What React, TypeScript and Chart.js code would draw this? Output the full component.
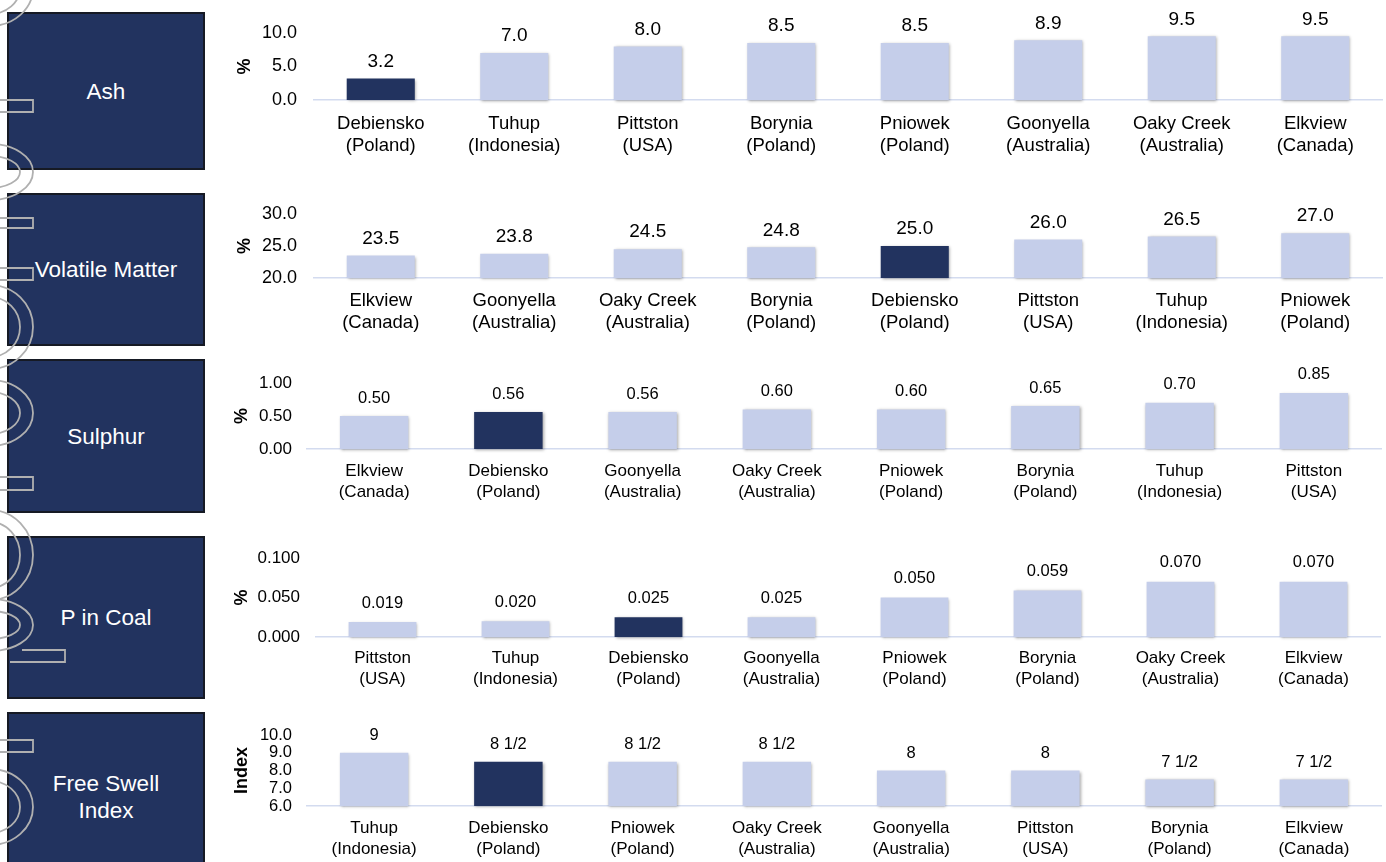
import React, { useEffect, useRef } from 'react';
import { Chart, registerables } from 'chart.js';
Chart.register(...registerables);

const FONT = '"Liberation Sans", Arial, Helvetica, sans-serif';
const DARK = '#22335F';
const LIGHT = '#C5CEEA';
const AXIS = '#D3DBEF';
const HIGHLIGHT = 'Debiensko';

// ---- Ash ----
const ashCategories = [['Debiensko', '(Poland)'], ['Tuhup', '(Indonesia)'], ['Pittston', '(USA)'], ['Borynia', '(Poland)'], ['Pniowek', '(Poland)'], ['Goonyella', '(Australia)'], ['Oaky Creek', '(Australia)'], ['Elkview', '(Canada)']];
const ashValues = [3.2, 7.0, 8.0, 8.5, 8.5, 8.9, 9.5, 9.5];
const ashTicks = [0, 5, 10];

// ---- Volatile Matter ----
const vmCategories = [['Elkview', '(Canada)'], ['Goonyella', '(Australia)'], ['Oaky Creek', '(Australia)'], ['Borynia', '(Poland)'], ['Debiensko', '(Poland)'], ['Pittston', '(USA)'], ['Tuhup', '(Indonesia)'], ['Pniowek', '(Poland)']];
const vmValues = [23.5, 23.8, 24.5, 24.8, 25.0, 26.0, 26.5, 27.0];
const vmTicks = [20, 25, 30];

// ---- Sulphur ----
const sCategories = [['Elkview', '(Canada)'], ['Debiensko', '(Poland)'], ['Goonyella', '(Australia)'], ['Oaky Creek', '(Australia)'], ['Pniowek', '(Poland)'], ['Borynia', '(Poland)'], ['Tuhup', '(Indonesia)'], ['Pittston', '(USA)']];
const sValues = [0.50, 0.56, 0.56, 0.60, 0.60, 0.65, 0.70, 0.85];
const sTicks = [0, 0.5, 1.0];

// ---- P in Coal ----
const pCategories = [['Pittston', '(USA)'], ['Tuhup', '(Indonesia)'], ['Debiensko', '(Poland)'], ['Goonyella', '(Australia)'], ['Pniowek', '(Poland)'], ['Borynia', '(Poland)'], ['Oaky Creek', '(Australia)'], ['Elkview', '(Canada)']];
const pValues = [0.019, 0.020, 0.025, 0.025, 0.050, 0.059, 0.070, 0.070];
const pTicks = [0, 0.05, 0.1];

// ---- Free Swell Index ----
const fsiCategories = [['Tuhup', '(Indonesia)'], ['Debiensko', '(Poland)'], ['Pniowek', '(Poland)'], ['Oaky Creek', '(Australia)'], ['Goonyella', '(Australia)'], ['Pittston', '(USA)'], ['Borynia', '(Poland)'], ['Elkview', '(Canada)']];
const fsiValues = [9, 8.5, 8.5, 8.5, 8, 8, 7.5, 7.5];
const fsiTicks = [6, 7, 8, 9, 10];

const fixed = (d: number) => (v: number) => v.toFixed(d);
const fraction = (v: number) => {
  const w = Math.floor(v);
  return v - w === 0.5 ? `${w} 1/2` : `${w}`;
};

const CANVAS_LEFT = 220;
const CANVAS_WIDTH = 1166;

type Spec = {
  cats: string[][]; values: number[]; ticks: number[]; tickDec: number; fmt: (v: number) => string;
  title: string; top: number; height: number; areaTop: number; areaBottom: number; areaLeft: number; areaRight: number;
  tickRight: number; tickFont: number; valueFont: number; valueOffset: number; catFont: number; catLine: number; catGap: number; titleX: number;
};

const specs: Spec[] = [
  { cats: ashCategories, values: ashValues, ticks: ashTicks, tickDec: 1, fmt: fixed(1), title: '%',
    top: 0, height: 170, areaTop: 33, areaBottom: 100, areaLeft: 314, areaRight: 1382, tickRight: 297,
    tickFont: 18, valueFont: 19, valueOffset: 17, catFont: 18.5, catLine: 22, catGap: 24, titleX: 245 },
  { cats: vmCategories, values: vmValues, ticks: vmTicks, tickDec: 1, fmt: fixed(1), title: '%',
    top: 180, height: 168, areaTop: 214, areaBottom: 278, areaLeft: 314, areaRight: 1382, tickRight: 297,
    tickFont: 18, valueFont: 19, valueOffset: 17, catFont: 18.5, catLine: 22, catGap: 23, titleX: 245 },
  { cats: sCategories, values: sValues, ticks: sTicks, tickDec: 2, fmt: fixed(2), title: '%',
    top: 350, height: 164, areaTop: 383, areaBottom: 449, areaLeft: 307, areaRight: 1381, tickRight: 292,
    tickFont: 17, valueFont: 16.5, valueOffset: 18, catFont: 17, catLine: 21, catGap: 22, titleX: 242 },
  { cats: pCategories, values: pValues, ticks: pTicks, tickDec: 3, fmt: fixed(3), title: '%',
    top: 520, height: 182, areaTop: 558, areaBottom: 637, areaLeft: 316, areaRight: 1380, tickRight: 300,
    tickFont: 17, valueFont: 16.5, valueOffset: 19, catFont: 17, catLine: 21, catGap: 21, titleX: 242 },
  { cats: fsiCategories, values: fsiValues, ticks: fsiTicks, tickDec: 1, fmt: fraction, title: 'Index',
    top: 700, height: 162, areaTop: 735, areaBottom: 806, areaLeft: 307, areaRight: 1381, tickRight: 292,
    tickFont: 16.5, valueFont: 16.5, valueOffset: 17, catFont: 17, catLine: 21, catGap: 22, titleX: 242 },
];

const shadowPlugin = {
  id: 'barShadow',
  beforeDatasetsDraw(chart: any) {
    const ctx = chart.ctx;
    ctx.save();
    ctx.shadowColor = 'rgba(0,0,0,0.35)';
    ctx.shadowBlur = 3;
    ctx.shadowOffsetX = 1;
    ctx.shadowOffsetY = 1;
  },
  afterDatasetsDraw(chart: any) {
    chart.ctx.restore();
  },
};

const makeValuePlugin = (s: Spec) => ({
  id: 'valueLabels',
  afterDatasetsDraw(chart: any) {
    const ctx = chart.ctx;
    const meta = chart.getDatasetMeta(0);
    ctx.save();
    ctx.font = `${s.valueFont}px ${FONT}`;
    ctx.fillStyle = '#000';
    ctx.textAlign = 'center';
    ctx.textBaseline = 'middle';
    meta.data.forEach((bar: any, i: number) => {
      ctx.fillText(s.fmt(s.values[i]), bar.x, bar.y - s.valueOffset);
    });
    ctx.restore();
  },
});

const makeTitlePlugin = (s: Spec) => ({
  id: 'axisTitle',
  afterDraw(chart: any) {
    const ctx = chart.ctx;
    const a = chart.chartArea;
    ctx.save();
    ctx.translate(s.titleX - CANVAS_LEFT, (a.top + a.bottom) / 2);
    ctx.rotate(-Math.PI / 2);
    ctx.font = `bold 18px ${FONT}`;
    ctx.fillStyle = '#000';
    ctx.textAlign = 'center';
    ctx.textBaseline = 'middle';
    ctx.fillText(s.title, 0, 0);
    ctx.restore();
  },
});

function BarPanel({ s }: { s: Spec }) {
  const ref = useRef<HTMLCanvasElement | null>(null);
  useEffect(() => {
    if (!ref.current) return;
    const chart = new Chart(ref.current, {
      type: 'bar',
      data: {
        labels: s.cats,
        datasets: [{
          data: s.values,
          backgroundColor: s.cats.map((c) => (c[0] === HIGHLIGHT ? DARK : LIGHT)),
          borderWidth: 0,
          barPercentage: 0.51,
          categoryPercentage: 1,
          base: s.ticks[0],
          clip: 4,
        } as any],
      },
      options: {
        responsive: false,
        maintainAspectRatio: false,
        animation: false,
        devicePixelRatio: 1,
        layout: { padding: { top: s.areaTop - s.top, right: CANVAS_LEFT + CANVAS_WIDTH - s.areaRight, left: 0, bottom: 0 } },
        plugins: { legend: { display: false }, tooltip: { enabled: false }, title: { display: false } },
        scales: {
          x: {
            grid: { display: false, drawTicks: false },
            border: { display: true, color: AXIS, width: 1.5 },
            ticks: {
              font: { family: FONT, size: s.catFont, lineHeight: s.catLine / s.catFont },
              color: '#000', padding: s.catGap - s.catLine / 2, maxRotation: 0, autoSkip: false,
            },
            afterFit: (sc: any) => { sc.height = s.top + s.height - s.areaBottom; },
          },
          y: {
            min: s.ticks[0], max: s.ticks[s.ticks.length - 1],
            grid: { display: false, drawTicks: false },
            border: { display: false },
            ticks: {
              font: { family: FONT, size: s.tickFont }, color: '#000',
              padding: s.areaLeft - s.tickRight,
              autoSkip: false,
              callback: (v: any) => Number(v).toFixed(s.tickDec),
            },
            afterBuildTicks: (sc: any) => { sc.ticks = s.ticks.map((v) => ({ value: v })); },
            afterFit: (sc: any) => { sc.width = s.areaLeft - CANVAS_LEFT; },
          },
        },
      } as any,
      plugins: [shadowPlugin, makeValuePlugin(s), makeTitlePlugin(s)],
    });
    return () => chart.destroy();
  }, [s]);
  return (
    <canvas ref={ref} width={CANVAS_WIDTH} height={s.height}
      style={{ position: 'absolute', left: CANVAS_LEFT, top: s.top, width: CANVAS_WIDTH, height: s.height }} />
  );
}

const boxes = [
  { label: ['Ash'], top: 12, height: 158 },
  { label: ['Volatile Matter'], top: 193, height: 153 },
  { label: ['Sulphur'], top: 359, height: 154 },
  { label: ['P in Coal'], top: 536, height: 163 },
  { label: ['Free Swell', 'Index'], top: 712, height: 170 },
];

function Watermark() {
  const stroke = '#b0b0b0';
  const stems = [[100, 112], [218, 228], [268, 280], [477, 490], [740, 752]];
  const bowls = [[-12, 38], [172, 28], [327, 42], [413, 33], [555, 45], [625, 26], [807, 38]];
  return (
    <svg width={80} height={862} style={{ position: 'absolute', left: 0, top: 0 }}>
      {stems.map(([a, b], i) => (
        <path key={'s' + i} d={`M -5 ${a} H 33 V ${b} H -5`} fill="none" stroke={stroke} strokeWidth={1.8} />
      ))}
      {bowls.map(([cy, ry], i) => (
        <g key={'b' + i}>
          <ellipse cx={-10} cy={cy} rx={43} ry={ry} fill="none" stroke={stroke} strokeWidth={1.8} />
          <ellipse cx={-10} cy={cy} rx={30} ry={Math.max(ry - 12, 8)} fill="none" stroke={stroke} strokeWidth={1.8} />
        </g>
      ))}
      <path d="M 22 650 H 65 V 662 H 10" fill="none" stroke={stroke} strokeWidth={1.8} />
    </svg>
  );
}

export default function App() {
  return (
    <div style={{ position: 'absolute', left: 0, top: 0, width: 1386, height: 862, overflow: 'hidden', background: '#fff' }}>
      {boxes.map((b, i) => (
        <div key={i} style={{
          position: 'absolute', left: 7, top: b.top, width: 198, height: b.height, boxSizing: 'border-box',
          background: DARK, border: '2px solid #161a24', color: '#fff',
          display: 'flex', flexDirection: 'column', alignItems: 'center', justifyContent: 'center',
          fontFamily: FONT, fontSize: 22.5, lineHeight: '27px', textAlign: 'center',
        }}>
          {b.label.map((l, j) => <div key={j}>{l}</div>)}
        </div>
      ))}
      {specs.map((s, i) => <BarPanel key={i} s={s} />)}
      <Watermark />
    </div>
  );
}
